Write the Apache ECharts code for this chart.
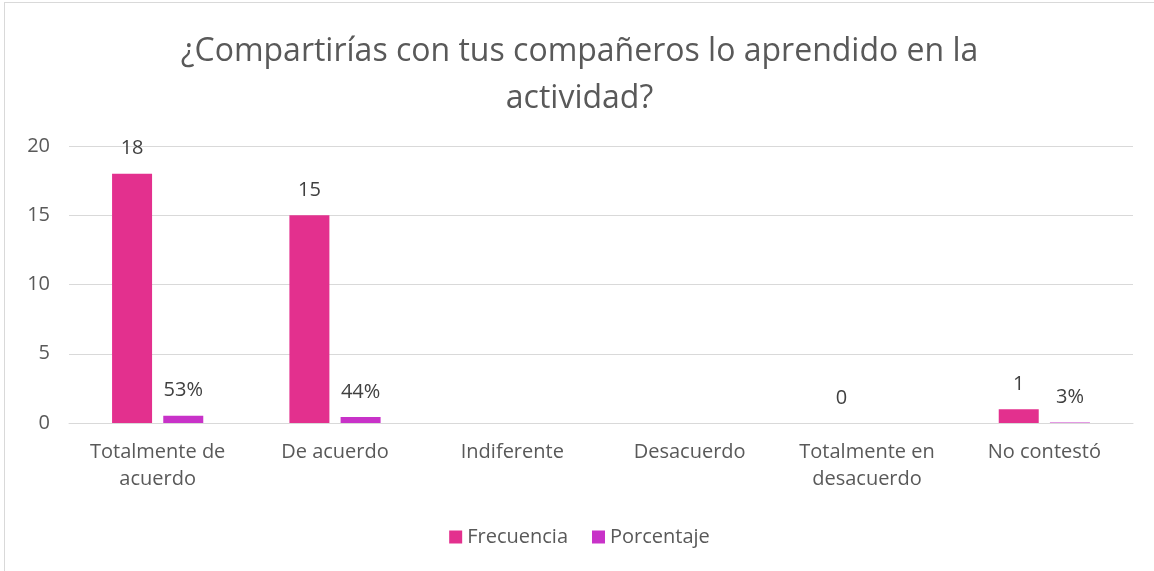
<!DOCTYPE html>
<html>
<head>
<meta charset="utf-8">
<script src="https://cdn.jsdelivr.net/npm/echarts@6/dist/echarts.min.js"></script>
<style>
  html, body { margin: 0; padding: 0; background: #fff; overflow: hidden; }
  #frame { position: absolute; left: 4px; top: 2px; width: 1150px; height: 569px;
           border-left: 1px solid #d9d9d9; border-top: 1px solid #d9d9d9; }
  #chart { width: 1149px; height: 568px; }
</style>
</head>
<body>
<div id="frame"><div id="chart"></div></div>
<script>
//	chart data
var titleText = '¿Compartirías con tus compañeros lo aprendido en la\nactividad?';
var categories = ['Totalmente de\nacuerdo', 'De acuerdo', 'Indiferente', 'Desacuerdo', 'Totalmente en\ndesacuerdo', 'No contestó'];
var frecuencia = [18, 15, null, null, 0, 1];
var porcentaje = [0.53, 0.44, null, null, null, 0.03];
var yTicks = [0, 5, 10, 15, 20];

var font = '"Open Sans", "Noto Sans", sans-serif';
var grey = '#595959';

var myChart = echarts.init(document.getElementById('chart'));

var option = {
    animation: false,
    title: {
        text: titleText,
        left: 'center',
        top: 20,
        textStyle: {
            fontFamily: font,
            fontSize: 32,
            fontWeight: 'normal',
            color: grey,
            lineHeight: 47
        }
    },
    legend: {
        data: ['Frecuencia', 'Porcentaje'],
        bottom: 19,
        left: 'center',
        itemWidth: 13,
        itemHeight: 13,
        itemGap: 24,
        icon: 'rect',
        textStyle: { fontFamily: font, fontSize: 20, color: grey }
    },
    grid: {
        left: 64,
        right: 21,
        top: 143,
        bottom: 148
    },
    xAxis: {
        type: 'category',
        data: categories,
        axisLine: { lineStyle: { color: '#d9d9d9' } },
        axisTick: { show: false },
        axisLabel: {
            fontFamily: font,
            fontSize: 20,
            color: grey,
            lineHeight: 27,
            margin: 16,
            interval: 0
        }
    },
    yAxis: {
        type: 'value',
        min: yTicks[0],
        max: yTicks[yTicks.length - 1],
        interval: 5,
        axisLine: { show: false },
        axisTick: { show: false },
        splitLine: { lineStyle: { color: '#d9d9d9' } },
        axisLabel: { fontFamily: font, fontSize: 20, color: grey, margin: 19 }
    },
    series: [
        {
            name: 'Frecuencia',
            type: 'bar',
            data: frecuencia,
            barWidth: 40,
            barGap: '28%',
            itemStyle: { color: '#e3308e' },
            label: {
                show: true,
                position: 'top',
                distance: 15,
                fontFamily: font,
                fontSize: 20,
                color: '#404040'
            }
        },
        {
            name: 'Porcentaje',
            type: 'bar',
            data: porcentaje,
            barWidth: 40,
            itemStyle: { color: '#c832c8' },
            label: {
                show: true,
                position: 'top',
                distance: 15,
                fontFamily: font,
                fontSize: 20,
                color: '#404040',
                formatter: function(p) { return Math.round(p.value * 100) + '%'; }
            }
        }
    ]
};

myChart.setOption(option);
</script>
</body>
</html>
